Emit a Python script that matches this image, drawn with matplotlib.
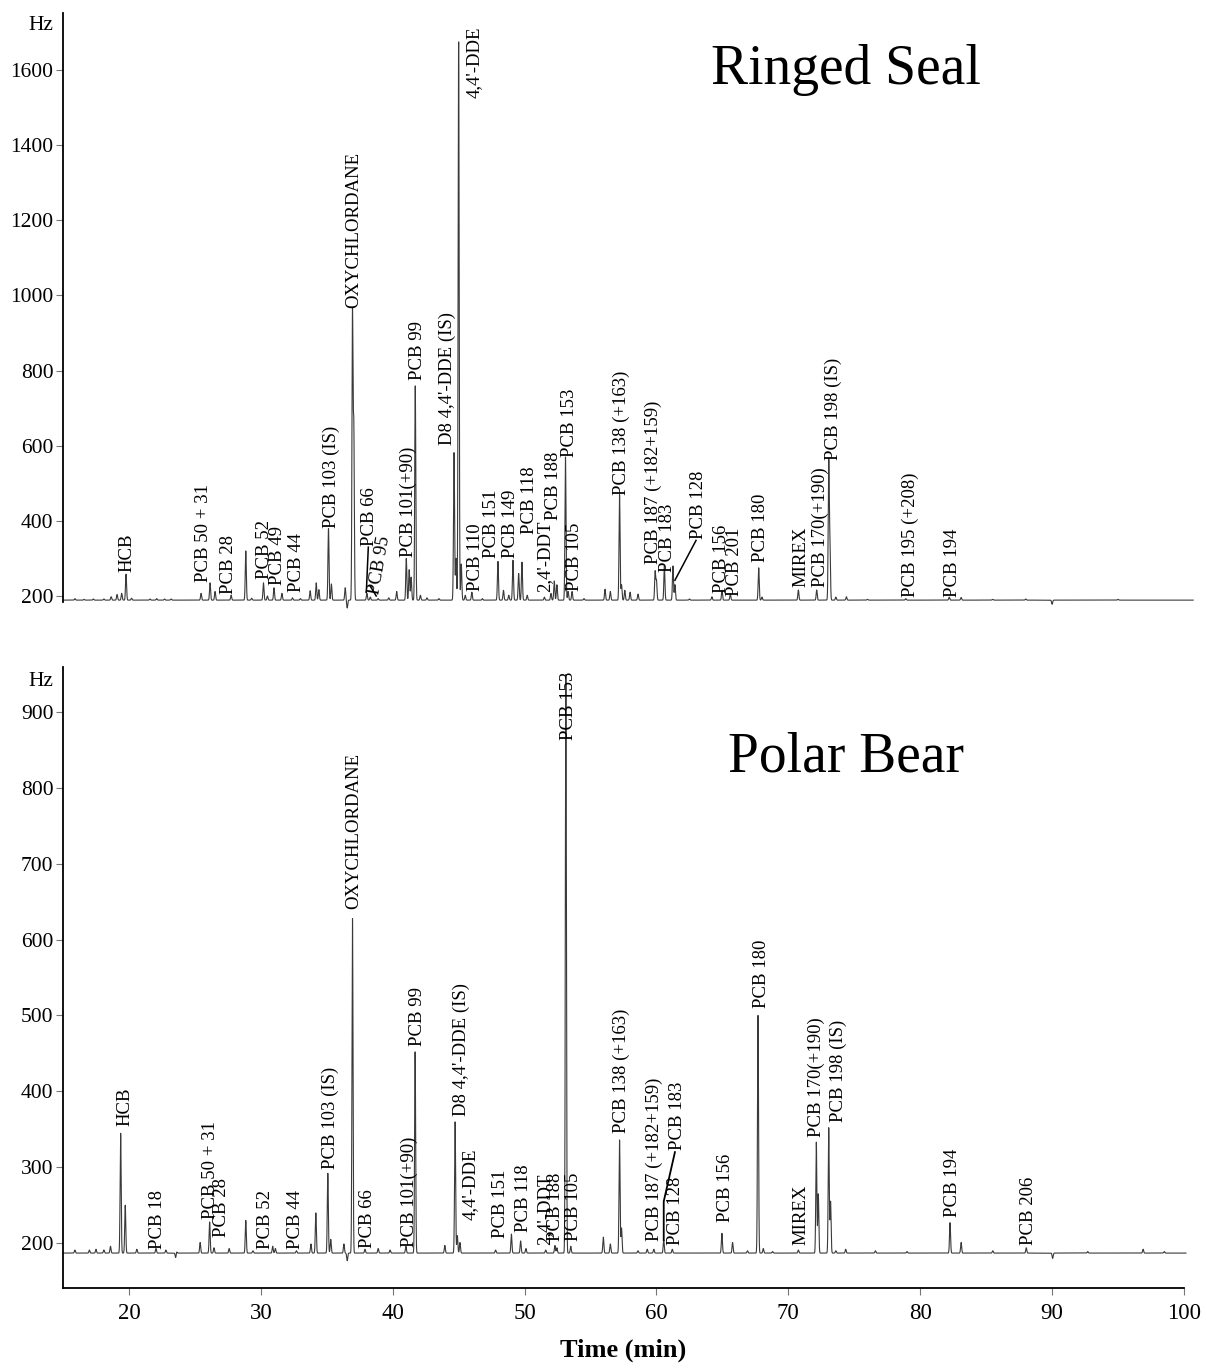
import numpy as np
import matplotlib.pyplot as plt

plt.rcParams['font.family'] = ['Liberation Serif', 'DejaVu Serif']

# ---- Ringed seal: retention time (min) and peak top (Hz) ----
seal_base = 189
seal_rt = [15.9, 16.6, 17.3, 18.1, 18.65, 19.1, 19.45, 19.78, 20.2, 21.6, 22.1, 22.7,
           23.2, 25.47, 26.15, 26.53, 27.75, 28.86, 29.3, 30.2, 30.5, 31.0, 31.6, 32.4,
           33.0, 33.74, 34.2, 34.4, 35.13, 35.35, 36.4, 36.55, 36.95, 37.05, 38.04, 38.3,
           38.9, 39.7, 40.3, 41.03, 41.25, 41.4, 41.71, 42.1, 42.6, 43.5, 44.65, 44.8,
           45.0, 45.2, 45.5, 46.0, 46.8, 47.98, 48.4, 48.8, 49.12, 49.55, 49.8, 50.2,
           51.5, 52.0, 52.25, 52.45, 53.1, 53.3, 53.6, 54.5, 56.1, 56.5, 57.2, 57.35,
           57.6, 58.0, 58.6, 59.9, 60.0, 60.6, 61.25, 61.4, 62.5, 64.2, 64.97, 65.6,
           67.75, 68.0, 70.76, 72.15, 73.06, 73.15, 73.6, 74.4, 76.0, 78.9, 82.2, 83.1,
           85.5, 88.0, 90.0, 95.0]
seal_hz = [193, 191, 192, 192, 198, 204, 207, 258, 194, 192, 193, 192,
           192, 207, 235, 212, 202, 320, 194, 235, 200, 222, 207, 195,
           193, 214, 235, 217, 380, 232, 222, 168, 946, 640, 207, 197,
           193, 195, 212, 300, 270, 250, 760, 202, 195, 193, 582, 300,
           1675, 285, 202, 210, 193, 292, 215, 202, 295, 260, 290, 202,
           197, 207, 240, 230, 570, 212, 212, 193, 218, 212, 470, 230,
           215, 210, 205, 265, 240, 280, 280, 230, 192, 198, 215, 205,
           275, 197, 216, 216, 553, 340, 197, 198, 191, 193, 197, 196,
           191, 192, 178, 191]

# ---- Polar bear ----
bear_base = 187
bear_rt = [15.9, 17.0, 17.5, 18.1, 18.6, 19.37, 19.72, 20.6, 22.05, 22.8, 23.55, 23.6,
           25.4, 26.12, 26.45, 27.6, 28.86, 29.4, 30.9, 31.1, 32.7, 33.8, 34.17, 35.08,
           35.3, 36.3, 36.55, 36.95, 37.9, 38.9, 39.8, 41.0, 41.7, 43.95, 44.73, 44.9,
           45.1, 47.8, 49.0, 49.7, 50.1, 51.6, 52.3, 52.45, 53.13, 53.5, 55.97, 56.5,
           57.2, 57.35, 58.6, 59.3, 59.8, 60.55, 61.2, 64.96, 65.77, 66.9, 67.7, 68.1,
           68.8, 70.76, 72.12, 72.27, 73.06, 73.2, 73.6, 74.35, 76.6, 79.0, 82.26, 83.1,
           85.5, 88.04, 90.04, 92.7, 96.9, 98.5]
bear_hz = [191, 191, 192, 191, 196, 345, 250, 192, 193, 191, 180, 190,
           201, 228, 194, 193, 230, 190, 196, 193, 190, 199, 240, 292,
           205, 199, 177, 628, 192, 193, 191, 196, 452, 197, 360, 210,
           201, 191, 212, 203, 193, 191, 197, 194, 950, 196, 208, 199,
           336, 220, 190, 192, 192, 204, 192, 213, 201, 190, 500, 193,
           189, 191, 333, 265, 352, 255, 190, 192, 190, 189, 227, 201,
           190, 194, 180, 189, 192, 189]

# ---- compound labels: name, retention time, Hz at bottom of text ----
seal_names = ['HCB', 'PCB 50 + 31', 'PCB 28', 'PCB 52', 'PCB 49', 'PCB 44', 'PCB 103 (IS)',
              'OXYCHLORDANE', 'PCB 66', 'PCB 101(+90)', 'PCB 99', "D8 4,4'-DDE (IS)",
              "4,4'-DDE", 'PCB 110', 'PCB 151', 'PCB 149', 'PCB 118', "2,4'-DDT", 'PCB 188',
              'PCB 153', 'PCB 105', 'PCB 138 (+163)', 'PCB 187 (+182+159)', 'PCB 183',
              'PCB 128', 'PCB 156', 'PCB 201', 'PCB 180', 'MIREX', 'PCB 170(+190)',
              'PCB 198 (IS)', 'PCB 195 (+208)', 'PCB 194']
seal_lab_rt = [19.87, 25.69, 27.53, 30.3, 31.27, 32.7, 35.38, 37.08, 38.24, 41.2, 41.85,
               44.15, 46.21, 46.25, 47.5, 48.95, 50.35, 51.5, 52.2, 53.4, 53.76, 57.3,
               59.76, 60.85, 63.2, 64.96, 65.9, 67.9, 70.96, 72.4, 73.4, 79.26, 82.47]
seal_lab_hz = [265, 237, 205, 245, 228, 210, 380, 968, 332, 305, 775, 602, 1527, 212,
               300, 300, 364, 210, 401, 570, 212, 470, 285, 264, 353, 208, 200, 290,
               223, 223, 563, 197, 197]

bear_names = ['HCB', 'PCB 18', 'PCB 50 + 31', 'PCB 28', 'PCB 52', 'PCB 44', 'PCB 103 (IS)',
              'OXYCHLORDANE', 'PCB 66', 'PCB 101(+90)', 'PCB 99', "D8 4,4'-DDE (IS)",
              "4,4'-DDE", 'PCB 151', 'PCB 118', "2,4'-DDT", 'PCB 188', 'PCB 153', 'PCB 105',
              'PCB 138 (+163)', 'PCB 187 (+182+159)', 'PCB 183', 'PCB 128', 'PCB 156',
              'PCB 180', 'MIREX', 'PCB 170(+190)', 'PCB 198 (IS)', 'PCB 194', 'PCB 206']
bear_lab_rt = [19.7, 22.2, 26.2, 27.03, 30.37, 32.6, 35.3, 37.05, 38.1, 41.25, 41.9, 45.17,
               45.87, 48.15, 49.92, 51.53, 52.37, 53.33, 53.69, 57.37, 59.86, 61.6, 61.43,
               65.2, 67.93, 70.96, 72.15, 73.8, 82.47, 88.24]
bear_lab_hz = [355, 193, 232, 208, 193, 193, 298, 640, 194, 195, 460, 368, 230, 207, 215,
               197, 203, 863, 203, 345, 203, 323, 197, 228, 510, 198, 340, 360, 235, 198]


def trace(rt, hz, base, t, width=0.04):
    y = np.full_like(t, float(base))
    for r, h in zip(rt, hz):
        y += (h - base) * np.exp(-0.5 * ((t - r) / width) ** 2)
    return y


fig = plt.figure(figsize=(12.06, 13.69), dpi=100)
W, H = 1206, 1369
ax1 = fig.add_axes([63 / W, 1 - 602 / H, 1121 / W, 589 / H])
ax2 = fig.add_axes([63 / W, 1 - 1288 / H, 1121 / W, 621 / H])

t1 = np.arange(15.0, 100.7, 0.004)
t2 = np.arange(15.0, 100.15, 0.004)
ax1.plot(t1, trace(seal_rt, seal_hz, seal_base, t1), color='#3a3a3a', lw=0.8, clip_on=False)
ax2.plot(t2, trace(bear_rt, bear_hz, bear_base, t2), color='#3a3a3a', lw=0.8, clip_on=False)

for ax, names, lrt, lhz in [(ax1, seal_names, seal_lab_rt, seal_lab_hz),
                            (ax2, bear_names, bear_lab_rt, bear_lab_hz)]:
    for name, r, h in zip(names, lrt, lhz):
        ax.text(r, h, name, rotation=90, ha='center', va='bottom', fontsize=13.5)

# tilted PCB 95 label and leader lines
ax1.text(39.0, 200, 'PCB 95', rotation=80, ha='center', va='bottom', fontsize=13.5)
ax1.plot([38.15, 38.0], [330, 210], color='k', lw=1.1)
ax1.plot([38.3, 38.75], [226, 200], color='k', lw=1.1)
ax1.plot([63.0, 61.4], [348, 242], color='k', lw=1.1)
ax2.plot([60.55, 60.55, 61.4], [204, 255, 320], color='k', lw=1.3)

ax1.set_xlim(15, 100)
ax1.set_ylim(184, 1752)
ax2.set_xlim(15, 100)
ax2.set_ylim(141, 959)

for ax in (ax1, ax2):
    for s in ('top', 'right'):
        ax.spines[s].set_visible(False)
    ax.spines['left'].set_linewidth(1.3)
    ax.tick_params(axis='y', length=5, width=0.8, color='#777777', pad=2, labelsize=15.5)

ax1.spines['bottom'].set_visible(False)
ax1.set_xticks([])
ax1.set_yticks(range(200, 1601, 200))

ax2.spines['bottom'].set_linewidth(1.3)
ax2.set_yticks(range(200, 901, 100))
ax2.set_xticks(range(20, 101, 10))
ax2.tick_params(axis='x', length=5, width=0.8, color='#777777', pad=6, labelsize=16.5)
ax2.set_xlabel('Time (min)', fontsize=19, fontweight='bold', labelpad=10)

fig.text(53 / W, 1 - 25 / H, 'Hz', ha='right', va='center', fontsize=15.5)
fig.text(53 / W, 1 - 682 / H, 'Hz', ha='right', va='center', fontsize=15.5)

fig.text(846 / W, 1 - 70 / H, 'Ringed Seal', ha='center', va='center', fontsize=40)
fig.text(846 / W, 1 - 757 / H, 'Polar Bear', ha='center', va='center', fontsize=40)

fig.savefig('out.png', dpi=100)
